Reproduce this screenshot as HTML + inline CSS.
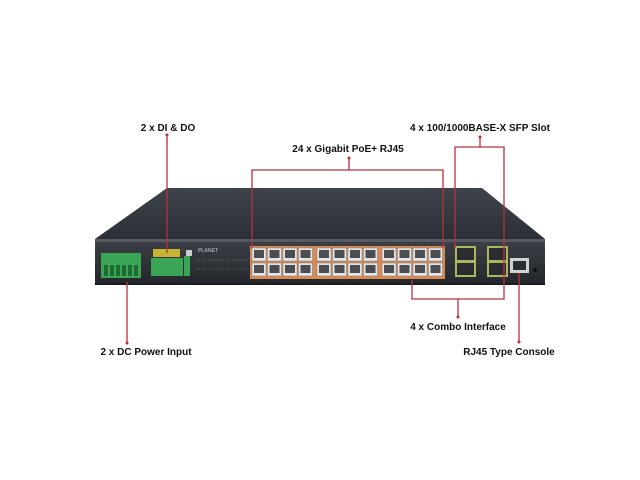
<!DOCTYPE html>
<html><head><style>
body{margin:0;background:#fff;}
svg{display:block;font-family:"Liberation Sans",sans-serif;font-weight:bold;font-size:10px;}
</style></head><body>
<svg width="640" height="480" viewBox="0 0 640 480">
<defs>
<linearGradient id="top" x1="0" y1="0" x2="0" y2="1"><stop offset="0" stop-color="#3f444b"/><stop offset="1" stop-color="#2c3036"/></linearGradient>
<linearGradient id="front" x1="0" y1="0" x2="0" y2="1"><stop offset="0" stop-color="#3b3f45"/><stop offset="1" stop-color="#24272b"/></linearGradient>
<g id="p"><rect width="14" height="13" fill="#e6e6e6" stroke="#777" stroke-width="0.5"/><rect x="2" y="2" width="10" height="8" fill="#4a4d52"/></g>
<g id="grp"><use href="#p" x="0" y="0"/><use href="#p" x="15.5" y="0"/><use href="#p" x="31" y="0"/><use href="#p" x="46.5" y="0"/><use href="#p" x="0" y="15"/><use href="#p" x="15.5" y="15"/><use href="#p" x="31" y="15"/><use href="#p" x="46.5" y="15"/></g>
</defs>
<rect width="640" height="480" fill="#fff"/>
<polygon points="167,188 482,188 545,239 95,239" fill="url(#top)"/>
<rect x="95" y="239" width="450" height="4" fill="#555a60"/>
<rect x="95" y="242" width="450" height="42" fill="url(#front)"/>
<rect x="95" y="283" width="450" height="2" fill="#1a1c1f"/>
<rect x="101" y="253" width="40" height="25" fill="#3aa655"/>
<g fill="#1e6b33"><rect x="104" y="265" width="4" height="11"/><rect x="110" y="265" width="4" height="11"/><rect x="116" y="265" width="4" height="11"/><rect x="122" y="265" width="4" height="11"/><rect x="128" y="265" width="4" height="11"/><rect x="134" y="265" width="4" height="11"/></g>
<rect x="153" y="249" width="27" height="8" fill="#c8b432"/>
<rect x="151" y="258" width="32" height="18" fill="#3aa655"/>
<rect x="184" y="256" width="6" height="20" fill="#3aa655"/>
<rect x="186" y="250" width="6" height="6" fill="#ccc"/>
<text x="198" y="252" fill="#9aa" font-size="5">PLANET</text>
<g stroke="#6a6e74" stroke-width="1"><line x1="196" y1="260" x2="248" y2="260" stroke-dasharray="1 2"/><line x1="196" y1="269" x2="248" y2="269" stroke-dasharray="1 2"/></g>
<g fill="#d88a55"><rect x="250" y="246" width="65" height="33"/><rect x="315" y="246" width="65" height="33"/><rect x="380" y="246" width="65" height="33"/></g>
<use href="#grp" x="252" y="248"/>
<use href="#grp" x="317" y="248"/>
<use href="#grp" x="382" y="248"/>
<rect x="455" y="246" width="21" height="31" fill="#a8b860"/><rect x="457" y="248" width="17" height="12" fill="#2a2c30"/><rect x="457" y="263" width="17" height="12" fill="#2a2c30"/>
<rect x="487" y="246" width="21" height="31" fill="#a8b860"/><rect x="489" y="248" width="17" height="12" fill="#2a2c30"/><rect x="489" y="263" width="17" height="12" fill="#2a2c30"/>
<rect x="510" y="258" width="19" height="15" fill="#cfd2d5"/><rect x="513" y="261" width="13" height="9" fill="#2a2c30"/>
<circle cx="535" cy="270" r="2" fill="#111"/>
<g stroke="#b8303f" stroke-width="1.3" fill="none">
<path d="M167,136 V253"/>
<path d="M349,158 V170 M252,248 V170 H443 V248"/>
<path d="M480,137 V147 M455,248 V147 H504 V299 H412 V280 M458,299 V317"/>
<path d="M127,282 V343"/>
<path d="M519,273 V342"/>
</g>
<g fill="#b8303f"><circle cx="167" cy="135" r="1.5"/><circle cx="349" cy="158" r="1.5"/><circle cx="480" cy="137" r="1.5"/><circle cx="458" cy="317" r="1.5"/><circle cx="127" cy="343" r="1.5"/><circle cx="519" cy="342" r="1.5"/></g>
<g fill="#111">
<text x="168" y="131" text-anchor="middle">2 x DI &amp; DO</text>
<text x="348" y="152" text-anchor="middle">24 x Gigabit PoE+ RJ45</text>
<text x="480" y="131" text-anchor="middle">4 x 100/1000BASE-X SFP Slot</text>
<text x="458" y="330" text-anchor="middle">4 x Combo Interface</text>
<text x="146" y="355" text-anchor="middle">2 x DC Power Input</text>
<text x="509" y="355" text-anchor="middle">RJ45 Type Console</text>
</g>
</svg>
</body></html>
